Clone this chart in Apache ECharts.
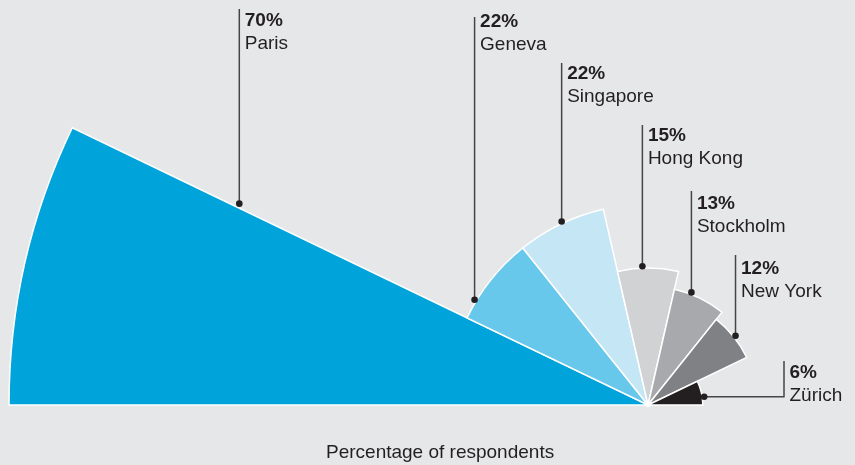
<!DOCTYPE html>
<html>
<head>
<meta charset="utf-8">
<script src="https://cdn.jsdelivr.net/npm/echarts@6/dist/echarts.min.js"></script>
<style>
  html, body { margin: 0; padding: 0; background: #e6e7e8; }
  #chart { width: 855px; height: 465px; }
</style>
</head>
<body>
<div id="chart"></div>
<script>
// ---- data ----
const cities = ['Paris', 'Geneva', 'Singapore', 'Hong Kong', 'Stockholm', 'New York', 'Zürich'];
const values = [70, 22, 22, 15, 13, 12, 6];
const axisTitle = 'Percentage of respondents';

// ---- styles / layout (not data) ----
const colors = ['#00a4db', '#68c8eb', '#c4e6f5', '#d1d2d4', '#a7a9ac', '#808184', '#231f20'];
const anchorFrac = [1.02, 0.215, 0.52, 0.41, 0.32, 0.51, 0.673]; // position of dot along each sector (clockwise)
const anchorDepth = [0.713, 1, 1, 1, 1, 1, 1];                 // fraction of sector radius
const anchorOffset = [0, 2, 2, 2, 2, 2, 2];                     // px beyond the arc
const lineTop = [9, 17, 63, 125, 191, 255, 361];
const textTop = [9, 10, 62, 124, 192, 257, 361];
const elbowX = [null, null, null, null, null, null, 784];
const FONT = '"Liberation Sans", Arial, Helvetica, sans-serif';
const INK = '#231f20';

const chart = echarts.init(document.getElementById('chart'), null, { renderer: 'canvas' });

function renderLabel(params, api) {
  const i = params.dataIndex;
  const v = values[i];
  const cs = params.coordSys;
  const cx = cs.cx, cy = cs.cy;
  const p = api.coord([v, i]);
  const a = Math.atan2(cy - p[1], p[0] - cx);
  const q = api.coord([v, i === 0 ? 1 : i - 1]);
  let b = Math.abs(Math.atan2(cy - q[1], q[0] - cx) - a);
  if (b > Math.PI) b = 2 * Math.PI - b;
  const rPx = Math.hypot(p[0] - cx, p[1] - cy);
  const ang = a + b / 2 - anchorFrac[i] * b;
  const r = rPx * anchorDepth[i] + anchorOffset[i];
  const dx = cx + r * Math.cos(ang);
  const dy = cy - r * Math.sin(ang);
  let pts, lx;
  if (elbowX[i] != null) {
    lx = elbowX[i];
    pts = [[dx, dy], [lx, dy], [lx, lineTop[i]]];
  } else {
    lx = dx;
    pts = [[dx, dy], [dx, lineTop[i]]];
  }
  return {
    type: 'group',
    children: [
      { type: 'polyline', shape: { points: pts }, style: { stroke: '#454545', lineWidth: 1.5, fill: null } },
      { type: 'circle', shape: { cx: dx, cy: dy, r: 3.3 }, style: { fill: INK } },
      {
        type: 'text', x: lx + 5.5, y: textTop[i],
        style: {
          text: '{b|' + v + '%}\n{n|' + cities[i] + '}',
          verticalAlign: 'top', align: 'left',
          rich: {
            b: { fontFamily: FONT, fontSize: 19, fontWeight: 'bold', lineHeight: 23, fill: INK, color: INK },
            n: { fontFamily: FONT, fontSize: 19, fontWeight: 'normal', lineHeight: 23, fill: INK, color: INK }
          }
        }
      }
    ]
  };
}

chart.setOption({
  backgroundColor: '#e6e7e8',
  animation: false,
  title: {
    text: axisTitle, left: 326, top: 443, padding: 0,
    textStyle: { fontFamily: FONT, fontSize: 19, fontWeight: 'normal', color: INK }
  },
  polar: { center: [648, 405], radius: 639 },
  angleAxis: {
    type: 'category', data: cities, startAngle: 180, endAngle: 0, clockwise: true,
    axisLine: { show: false }, axisTick: { show: false }, axisLabel: { show: false }, splitLine: { show: false }
  },
  radiusAxis: {
    type: 'value', min: 0, max: 70,
    axisLine: { show: false }, axisTick: { show: false }, axisLabel: { show: false }, splitLine: { show: false }
  },
  series: [
    {
      type: 'bar', coordinateSystem: 'polar', barCategoryGap: '0%', barGap: '0%',
      data: values.map((v, i) => ({ value: v, itemStyle: { color: colors[i] } })),
      itemStyle: { borderColor: '#ffffff', borderWidth: 1.5 }
    },
    {
      type: 'custom', coordinateSystem: 'polar',
      data: values.map((v, i) => [v, i]),
      renderItem: renderLabel, z: 10
    }
  ]
});
</script>
</body>
</html>
